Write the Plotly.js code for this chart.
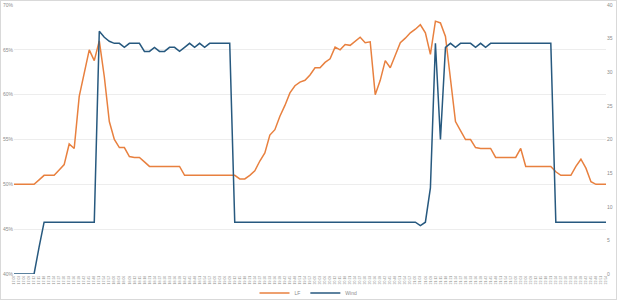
<!DOCTYPE html>
<html>
<head>
<meta charset="utf-8">
<script src="https://cdn.plot.ly/plotly-3.0.1.min.js"></script>
<style>
html,body{margin:0;padding:0;background:#fff;}
#chart{width:615px;height:298px;border:1px solid #D9D9D9;}
</style>
</head>
<body>
<div id="chart"></div>
<script>
const times = [
"17:00","17:03","17:06","17:09","17:12","17:15","17:18","17:21","17:24","17:27","17:30","17:33","17:36","17:39","17:42","17:45","17:48","17:51","17:54","17:57",
"18:00","18:03","18:06","18:09","18:12","18:15","18:18","18:21","18:24","18:27","18:30","18:33","18:36","18:39","18:42","18:45","18:48","18:51","18:54","18:57",
"19:00","19:03","19:06","19:09","19:12","19:15","19:18","19:21","19:24","19:27","19:30","19:33","19:36","19:39","19:42","19:45","19:48","19:51","19:54","19:57",
"20:00","20:03","20:06","20:09","20:12","20:15","20:18","20:21","20:24","20:27","20:30","20:33","20:36","20:39","20:42","20:45","20:48","20:51","20:54","20:57",
"21:00","21:03","21:06","21:09","21:12","21:15","21:18","21:21","21:24","21:27","21:30","21:33","21:36","21:39","21:42","21:45","21:48","21:51","21:54","21:57",
"22:00","22:03","22:06","22:09","22:12","22:15","22:18","22:21","22:24","22:27","22:30","22:33","22:36","22:39","22:42","22:45","22:48","22:51","22:54"
];

const lf = [
50,50,50,50,50,50.5,51,51,51,51.6,52.2,54.5,54.0,59.8,62.5,65.0,63.8,66.0,62.0,57.0,
55.0,54.1,54.1,53.1,53,53,52.5,52,52,52,52,52,52,52,51,51,51,51,51,51,
51,51,51,51,51,50.6,50.6,51,51.5,52.6,53.5,55.5,56.1,57.6,58.8,60.2,61.0,61.4,61.6,62.2,
63.0,63.0,63.6,64.0,65.3,65.0,65.6,65.5,66.0,66.4,65.8,65.9,60.0,61.6,63.8,63.0,64.4,65.8,66.3,66.9,
67.3,67.8,66.9,64.5,68.2,68.0,66.5,61.6,57.0,56.0,55.0,55,54.1,54,54,54,53,53,53,53,
53,54.0,52,52,52,52,52,52,51.4,51,51,51,52.0,52.8,51.8,50.3,50,50,50
];

const wind = [
0,0,0,0,0,4,7.7,7.7,7.7,7.7,7.7,7.7,7.7,7.7,7.7,7.7,7.7,36.1,35.2,34.6,
34.3,34.3,33.7,34.3,34.3,34.3,33.1,33.1,33.7,33.1,33.1,33.7,33.7,33.1,33.7,34.3,33.7,34.3,33.7,34.3,
34.3,34.3,34.3,34.3,7.7,7.7,7.7,7.7,7.7,7.7,7.7,7.7,7.7,7.7,7.7,7.7,7.7,7.7,7.7,7.7,
7.7,7.7,7.7,7.7,7.7,7.7,7.7,7.7,7.7,7.7,7.7,7.7,7.7,7.7,7.7,7.7,7.7,7.7,7.7,7.7,
7.7,7.2,7.7,12.8,34.3,20,33.7,34.3,33.7,34.3,34.3,34.3,33.7,34.3,33.7,34.3,34.3,34.3,34.3,34.3,
34.3,34.3,34.3,34.3,34.3,34.3,34.3,34.3,7.7,7.7,7.7,7.7,7.7,7.7,7.7,7.7,7.7,7.7,7.7
];

const traces = [
  {x: times, y: lf, name: 'LF', type: 'scatter', mode: 'lines',
   line: {color: '#E8803F', width: 1.5}, yaxis: 'y'},
  {x: times, y: wind, name: 'Wind', type: 'scatter', mode: 'lines',
   line: {color: '#27597F', width: 1.5}, yaxis: 'y2'}
];

const tickFont = {family: 'Liberation Sans, Arial, sans-serif', size: 5, color: '#8C8C8C'};
const xTickFont = {family: 'Liberation Sans, Arial, sans-serif', size: 3.5, color: '#8C8C8C'};

const layout = {
  width: 615, height: 298,
  margin: {l: 13, r: 10, t: 4, b: 25},
  paper_bgcolor: '#fff', plot_bgcolor: '#fff',
  showlegend: true,
  legend: {orientation: 'h', x: 0.5, xanchor: 'center', xref: 'container',
           y: 0.02, yanchor: 'middle', yref: 'container', bgcolor: 'rgba(0,0,0,0)',
           font: {family: 'Liberation Sans, Arial, sans-serif', size: 5, color: '#8C8C8C'},
           itemwidth: 30, tracegroupgap: 0},
  xaxis: {type: 'category', tickangle: -90, tickfont: xTickFont, showgrid: false,
          showline: false, ticks: '', zeroline: false, automargin: false, tickmode: 'linear', dtick: 1},
  yaxis: {range: [40, 70], dtick: 5, ticksuffix: '%', tickfont: tickFont,
          gridcolor: '#EDEDED', gridwidth: 1, zeroline: false, showline: false,
          ticks: '', automargin: false},
  yaxis2: {range: [0, 40], dtick: 5, overlaying: 'y', side: 'right', tickfont: tickFont,
           showgrid: false, zeroline: false, showline: false, ticks: '', automargin: false}
};

Plotly.newPlot('chart', traces, layout, {displayModeBar: false, staticPlot: true});
</script>
</body>
</html>
